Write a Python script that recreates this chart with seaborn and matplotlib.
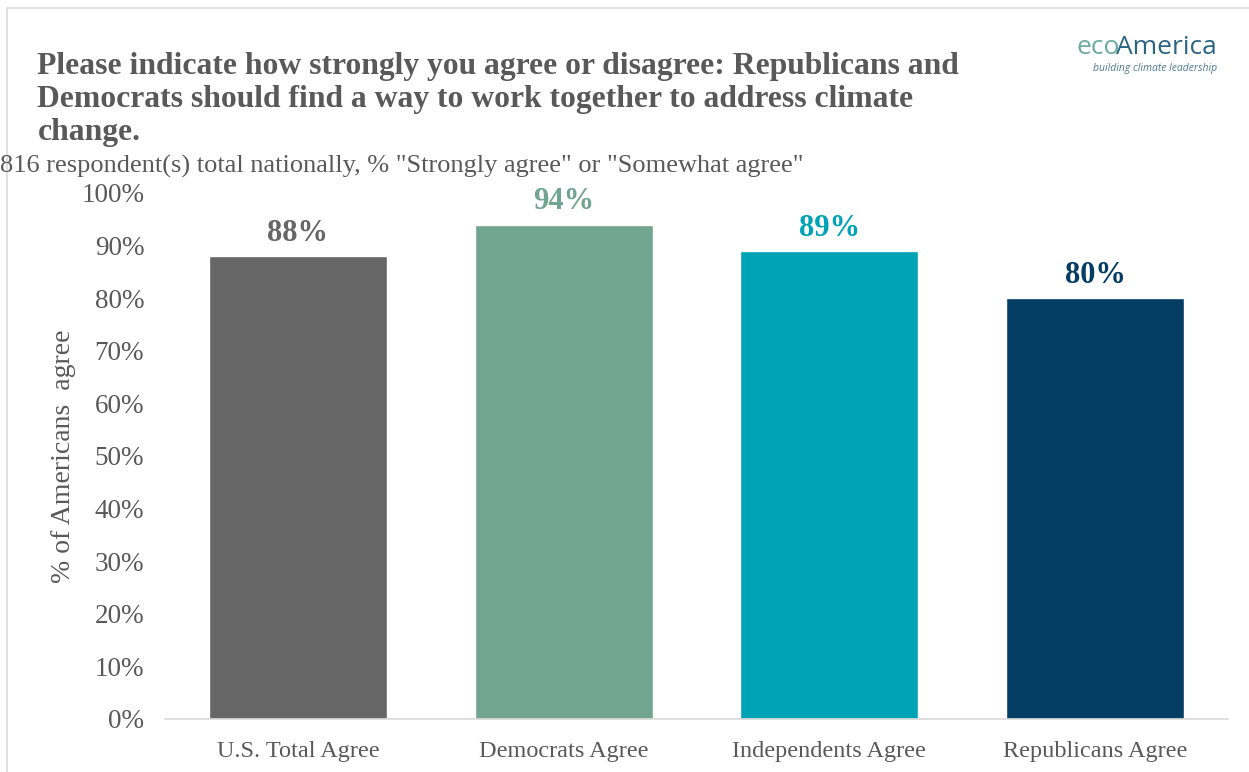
import matplotlib
matplotlib.use("Agg")
import matplotlib.pyplot as plt
import seaborn as sns
import pandas as pd
from matplotlib.ticker import PercentFormatter
from matplotlib.patches import Rectangle

# Data
categories = ["U.S. Total Agree", "Democrats Agree", "Independents Agree", "Republicans Agree"]
values = [0.88, 0.94, 0.89, 0.80]
bar_colors = ["#666666", "#71A491", "#00A3B6", "#033D63"]

title = ("Please indicate how strongly you agree or disagree: Republicans and\n"
         "Democrats should find a way to work together to address climate\n"
         "change.")
subtitle = '816 respondent(s) total nationally, % "Strongly agree" or "Somewhat agree"'

df = pd.DataFrame({"group": categories, "share": values})

sns.set_style("white")
plt.rcParams["font.family"] = ["Liberation Serif", "DejaVu Serif"]

text_color = "#595959"

fig = plt.figure(figsize=(12.49, 7.72), dpi=100)
ax = fig.add_axes([0.1321, 0.0687, 0.8511, 0.6813])

sns.barplot(data=df, x="group", y="share", hue="group", palette=bar_colors,
            width=0.67, legend=False, saturation=1, ax=ax)

# Value labels above the bars, coloured like the bars
for container, color in zip(ax.containers, bar_colors):
    ax.bar_label(container, labels=[f"{v:.0%}" for v in container.datavalues],
                 padding=6, fontsize=22, fontweight="bold", color=color)

ax.set_ylim(0, 1.0)
ax.set_xlim(-0.5, 3.5)
ax.set_yticks([i / 10 for i in range(11)])
ax.yaxis.set_major_formatter(PercentFormatter(1.0, decimals=0))
ax.tick_params(axis="y", labelsize=19.5, labelcolor=text_color, length=0, pad=15)
ax.tick_params(axis="x", labelsize=17.5, labelcolor=text_color, length=0, pad=16)
ax.set_xlabel("")
ax.set_ylabel("% of Americans  agree", fontsize=20, color=text_color, labelpad=4)

for side in ["top", "right", "left"]:
    ax.spines[side].set_visible(False)
ax.spines["bottom"].set_color("#D9D9D9")
ax.spines["bottom"].set_linewidth(1.2)

# Title and subtitle
fig.text(0.030, 0.932, title, fontsize=22.8, fontweight="bold", color=text_color,
         va="top", ha="left", linespacing=1.17)
fig.text(0.0, 0.784, subtitle, fontsize=19, color=text_color, va="center", ha="left")

# Logo text
fig.text(0.862, 0.938, "eco", fontsize=19, color="#6AAB9C", family="Open Sans",
         va="center", ha="left")
fig.text(0.9745, 0.938, "America", fontsize=19, color="#2A6483", family="Open Sans",
         va="center", ha="right")
fig.text(0.9745, 0.911, "building climate leadership", fontsize=7.5, color="#4E7A95",
         family="Open Sans", style="italic", va="center", ha="right")

# Light frame round the chart area
fig.patches.append(Rectangle((0.0056, -0.01), 1.0, 1.0, transform=fig.transFigure,
                             fill=False, edgecolor="#D9D9D9", linewidth=1.2))

fig.savefig("out.png", dpi=100)
